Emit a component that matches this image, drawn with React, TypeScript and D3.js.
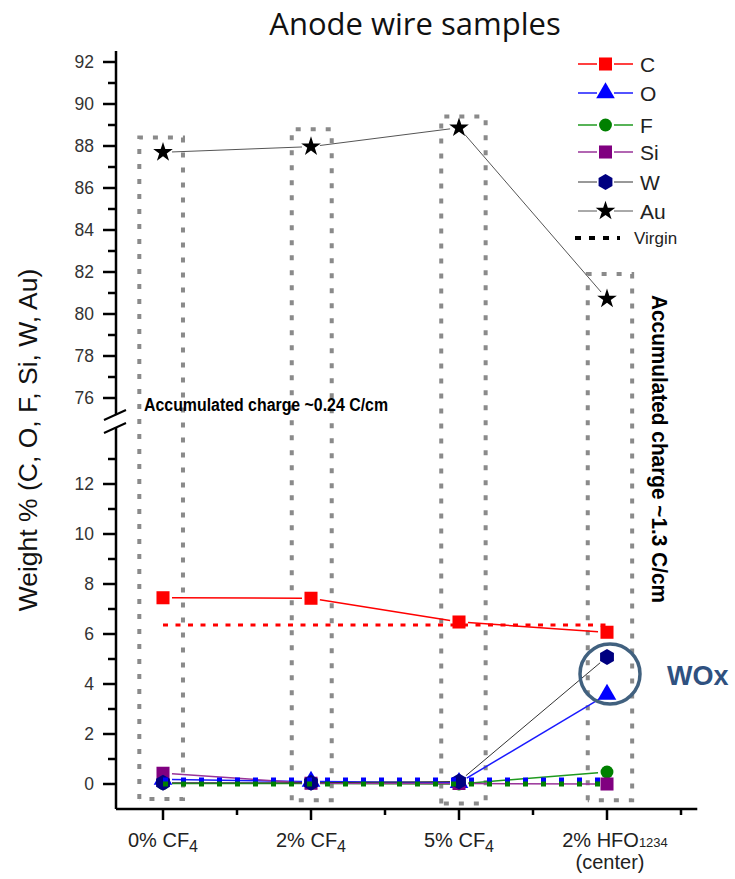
import React from "react";
import * as d3 from "d3";

// Sample categories (main text, subscript, second line)
const catMain = ["0% CF", "2% CF", "5% CF", "2% HFO"];
const catSub = ["4", "4", "4", "1234"];
const catNote = ["", "", "", "(center)"];

// Weight % per element for each sample
const cValues = [7.45, 7.43, 6.48, 6.07];
const oValues = [0.18, 0.1, 0.05, 3.58];
const fValues = [0.02, 0.02, 0.0, 0.48];
const siValues = [0.43, 0.03, 0.02, 0.0];
const wValues = [0.05, 0.05, 0.1, 5.08];
const auValues = [87.7, 87.97, 88.87, 80.72];

// Virgin wire reference levels
const virginC = 6.36;
const virginO = 0.16;
const virginF = 0.0;

// Axis ticks
const upperTicks = [76, 78, 80, 82, 84, 86, 88, 90, 92];
const upperMinor = [77, 79, 81, 83, 85, 87, 89, 91];
const lowerTicks = [0, 2, 4, 6, 8, 10, 12];
const lowerMinor = [1, 3, 5, 7, 9, 11, 13];
const xMinor = [0.5, 1.5, 2.5, 3.5];

// Highlight boxes around each sample (x in category units, y in weight %)
const boxLeft = [-0.16, 0.87, 1.88, 2.87];
const boxRight = [0.135, 1.14, 2.18, 3.17];
const boxTop = [88.4, 88.8, 89.4, 81.9];
const boxBottom = [-0.6, -0.65, -0.78, -0.65];

const W = 735;
const H = 879;
const axisX = 116;
const axisY = 809;
const FONT = "'Liberation Sans', Arial, sans-serif";

const x = d3.scaleLinear().domain([0, 3]).range([163, 607]);
const yU = d3.scaleLinear().domain([76, 92]).range([398, 62]);
const yL = d3.scaleLinear().domain([0, 12]).range([784, 484]);

function hexPath(r: number) {
  const pts = d3.range(6).map((i) => {
    const a = (-90 + 60 * i) * (Math.PI / 180);
    return [r * Math.cos(a), r * Math.sin(a)];
  });
  return "M" + pts.map((p) => p.join(",")).join("L") + "Z";
}

const markerPaths: Record<string, string> = {
  square: d3.symbol(d3.symbolSquare, 170)() as string,
  triangle: d3.symbol(d3.symbolTriangle, 150)() as string,
  circle: d3.symbol(d3.symbolCircle, 130)() as string,
  hexagon: hexPath(8),
  star: d3.symbol(d3.symbolStar, 120)() as string,
};

type Series = {
  name: string;
  values: number[];
  markerFill: string;
  lineColor: string;
  lineWidth: number;
  marker: string;
  upper?: boolean;
};

const series: Series[] = [
  { name: "C", values: cValues, markerFill: "#ff0000", lineColor: "#ff0000", lineWidth: 1.5, marker: "square" },
  { name: "O", values: oValues, markerFill: "#0000ff", lineColor: "#1a1aff", lineWidth: 1.5, marker: "triangle" },
  { name: "F", values: fValues, markerFill: "#008000", lineColor: "#1f9a1f", lineWidth: 1.5, marker: "circle" },
  { name: "Si", values: siValues, markerFill: "#800080", lineColor: "#993399", lineWidth: 1.5, marker: "square" },
  { name: "W", values: wValues, markerFill: "#000080", lineColor: "#333333", lineWidth: 1, marker: "hexagon" },
  { name: "Au", values: auValues, markerFill: "#000000", lineColor: "#555555", lineWidth: 1, marker: "star", upper: true },
];

function shortened(x1: number, y1: number, x2: number, y2: number, gap: number) {
  const dx = x2 - x1;
  const dy = y2 - y1;
  const len = Math.hypot(dx, dy);
  if (len < gap * 2 + 1) return null;
  const ux = dx / len;
  const uy = dy / len;
  return [x1 + ux * gap, y1 + uy * gap, x2 - ux * gap, y2 - uy * gap];
}

function SeriesMarks({ s }: { s: Series }) {
  const yScale = s.upper ? yU : yL;
  const pts = s.values.map((v, i) => [x(i), yScale(v)]);
  const segs = pts.slice(1).map((p, i) => shortened(pts[i][0], pts[i][1], p[0], p[1], 9));
  return (
    <g>
      {segs.map((sg, i) =>
        sg ? (
          <line key={i} x1={sg[0]} y1={sg[1]} x2={sg[2]} y2={sg[3]} stroke={s.lineColor} strokeWidth={s.lineWidth} />
        ) : null
      )}
      {pts.map((p, i) => (
        <path key={i} d={markerPaths[s.marker]} transform={`translate(${p[0]},${p[1]})`} fill={s.markerFill} />
      ))}
    </g>
  );
}

export default function App() {
  const boxStroke = "#8a8a8a";
  const legendY = [64, 93, 125, 152, 182, 211];
  return (
    <svg width={W} height={H} style={{ display: "block", position: "absolute", left: 0, top: 0, background: "#fff" }}>
      <rect x={0} y={0} width={W} height={H} fill="#fff" />
      {/* Title */}
      <text x={415} y={35} textAnchor="middle" fontFamily="'Open Sans', sans-serif" fontSize={31} fill="#111">
        Anode wire samples
      </text>

      {/* Highlight boxes */}
      {boxLeft.map((l, i) => {
        const x0 = x(l);
        const x1 = x(boxRight[i]);
        const y0 = yU(boxTop[i]);
        const y1 = yL(boxBottom[i]);
        const path = `M${x0},${y1}L${x0},${y0}L${x1},${y0}L${x1},${y1}L${x0},${y1}`;
        return (
          <path key={i} d={path} fill="none" stroke={boxStroke} strokeWidth={4} strokeDasharray="5,10" />
        );
      })}

      {/* Y axis: upper segment */}
      <line x1={axisX} x2={axisX} y1={51} y2={414} stroke="#000" strokeWidth={2.5} />
      {upperTicks.map((t) => (
        <g key={t}>
          <line x1={axisX - 13} x2={axisX} y1={yU(t)} y2={yU(t)} stroke="#000" strokeWidth={2.5} />
          <text x={94} y={yU(t) + 6} textAnchor="end" fontFamily={FONT} fontSize={17.5} fill="#333">
            {t}
          </text>
        </g>
      ))}
      {upperMinor.map((t) => (
        <line key={t} x1={axisX - 8} x2={axisX} y1={yU(t)} y2={yU(t)} stroke="#000" strokeWidth={2.5} />
      ))}

      {/* Y axis: lower segment */}
      <line x1={axisX} x2={axisX} y1={427} y2={axisY} stroke="#000" strokeWidth={2.5} />
      {lowerTicks.map((t) => (
        <g key={t}>
          <line x1={axisX - 13} x2={axisX} y1={yL(t)} y2={yL(t)} stroke="#000" strokeWidth={2.5} />
          <text x={94} y={yL(t) + 6} textAnchor="end" fontFamily={FONT} fontSize={17.5} fill="#333">
            {t}
          </text>
        </g>
      ))}
      {lowerMinor.map((t) => (
        <line key={t} x1={axisX - 8} x2={axisX} y1={yL(t)} y2={yL(t)} stroke="#000" strokeWidth={2.5} />
      ))}

      {/* Axis break marks */}
      <line x1={axisX - 12} y1={420} x2={axisX + 10} y2={410} stroke="#000" strokeWidth={2} />
      <line x1={axisX - 12} y1={433} x2={axisX + 10} y2={423} stroke="#000" strokeWidth={2} />

      {/* X axis */}
      <line x1={axisX} x2={x(3.61)} y1={axisY} y2={axisY} stroke="#000" strokeWidth={2.5} />
      {catMain.map((c, i) => (
        <line key={i} x1={x(i)} x2={x(i)} y1={axisY} y2={axisY + 11} stroke="#000" strokeWidth={2.5} />
      ))}
      {xMinor.map((t) => (
        <line key={t} x1={x(t)} x2={x(t)} y1={axisY} y2={axisY + 6} stroke="#000" strokeWidth={2.5} />
      ))}
      {catMain.map((c, i) => (
        <g key={i}>
          <text x={x(i) + (i === 3 ? 8 : 0)} y={847} textAnchor="middle" fontFamily={FONT} fontSize={20} fill="#222">
            {c}
            <tspan fontSize={i === 3 ? 13 : 16} dy={i === 3 ? 0 : 5}>
              {catSub[i]}
            </tspan>
          </text>
          {catNote[i] ? (
            <text x={x(i) + 3} y={869} textAnchor="middle" fontFamily={FONT} fontSize={20} fill="#222">
              {catNote[i]}
            </text>
          ) : null}
        </g>
      ))}

      {/* Y axis title */}
      <text
        transform={`translate(37,440) rotate(-90)`}
        textAnchor="middle"
        fontFamily={FONT}
        fontSize={26.5}
        fill="#111"
      >
        Weight % (C, O, F, Si, W, Au)
      </text>

      {/* Data series */}
      {series.map((s) => (
        <SeriesMarks key={s.name} s={s} />
      ))}

      {/* Virgin reference levels */}
      <line x1={x(0)} x2={x(3)} y1={yL(virginC)} y2={yL(virginC)} stroke="#ff0000" strokeWidth={3} strokeDasharray="5,7.5" />
      <line x1={x(0)} x2={x(3)} y1={yL(virginO)} y2={yL(virginO)} stroke="#0000ff" strokeWidth={5} strokeDasharray="5,13" />
      <line x1={x(0)} x2={x(3)} y1={yL(virginF)} y2={yL(virginF)} stroke="#008000" strokeWidth={5} strokeDasharray="5,13" />

      {/* WOx highlight */}
      <circle cx={x(3) + 3} cy={yL(4.4)} r={30} fill="none" stroke="#41617f" strokeWidth={3.5} />
      <text x={667} y={685} fontFamily={FONT} fontWeight="bold" fontSize={27} fill="#2f5180">
        WOx
      </text>

      {/* Annotations */}
      <text
        x={144}
        y={411}
        fontFamily={FONT}
        fontWeight="bold"
        fontSize={18}
        textLength={244}
        lengthAdjust="spacingAndGlyphs"
        fill="#000"
      >
        Accumulated charge ~0.24 C/cm
      </text>
      <text
        transform={`translate(652,295) rotate(90)`}
        fontFamily={FONT}
        fontWeight="bold"
        fontSize={22}
        textLength={308}
        lengthAdjust="spacingAndGlyphs"
        fill="#000"
      >
        Accumulated charge ~1.3 C/cm
      </text>

      {/* Legend */}
      {series.map((s, i) => (
        <g key={s.name} transform={`translate(0,${legendY[i]})`}>
          <line x1={578} x2={597} y1={0} y2={0} stroke={s.lineColor} strokeWidth={s.lineWidth} />
          <line x1={614} x2={633} y1={0} y2={0} stroke={s.lineColor} strokeWidth={s.lineWidth} />
          <path d={markerPaths[s.marker]} transform="translate(605.5,0)" fill={s.markerFill} />
          <text x={640} y={7.5} fontFamily={FONT} fontSize={21} fill="#222">
            {s.name}
          </text>
        </g>
      ))}
      <line x1={575} x2={620} y1={238} y2={238} stroke="#000" strokeWidth={4} strokeDasharray="6,8" />
      <text x={634} y={244} fontFamily={FONT} fontSize={17} fill="#222">
        Virgin
      </text>
    </svg>
  );
}
